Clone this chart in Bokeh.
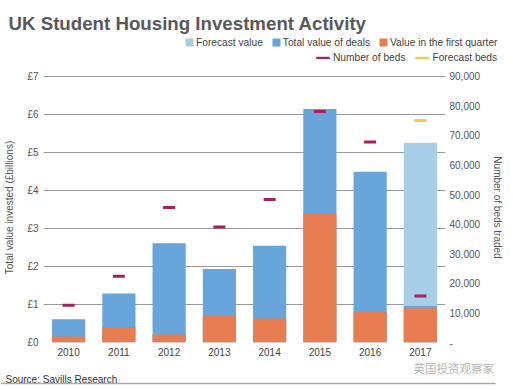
from bokeh.plotting import figure
from bokeh.layouts import column
from bokeh.models import (FactorRange, Range1d, LinearAxis, FixedTicker, Legend, LegendItem, Label,
                          BoxAnnotation)
from bokeh.embed import file_html
from bokeh.resources import INLINE

years = ["2010", "2011", "2012", "2013", "2014", "2015", "2016", "2017"]
total_value = [0.61, 1.29, 2.61, 1.93, 2.54, 6.14, 4.49, 0.96]
first_quarter = [0.16, 0.40, 0.21, 0.70, 0.63, 3.39, 0.83, 0.90]
forecast_years = ["2017"]
forecast_value = [5.25]
beds = [12600, 22400, 45600, 39000, 48300, 78100, 67800, 15700]
forecast_beds = [75000]
left_ticks = [0, 1, 2, 3, 4, 5, 6, 7]
right_ticks = [0, 10000, 20000, 30000, 40000, 50000, 60000, 70000, 80000, 90000]

C_FORE = "#a7cee6"
C_TOTAL = "#67a5da"
C_Q1 = "#e87d51"
C_BEDS = "#a6215c"
C_FBEDS = "#fcc44f"
TXT = "#555555"
FONT = "Liberation Sans"
W = 513
H_TOP, H_MAIN, H_BOT = 63, 297, 30


def bare_figure(h, x_range, y_range):
    f = figure(width=W, height=h, x_range=x_range, y_range=y_range,
               output_backend="svg", toolbar_location=None, frame_align=False,
               min_border_left=0, min_border_right=0, min_border_top=0, min_border_bottom=0)
    f.axis.visible = False
    f.grid.visible = False
    f.outline_line_color = None
    return f


def bar_and_bed_renderers(f):
    rf = f.vbar(x=forecast_years, top=forecast_value, width=0.66, fill_color=C_FORE, line_color=None)
    rt = f.vbar(x=years, top=total_value, width=0.66, fill_color=C_TOTAL, line_color=None)
    rq = f.vbar(x=years, top=first_quarter, width=0.66, fill_color=C_Q1, line_color=None)
    rb = f.rect(x=years, y=beds, width=12, height=3, width_units="screen", height_units="screen",
                fill_color=C_BEDS, line_color=None, y_range_name="beds")
    rfb = f.rect(x=forecast_years, y=forecast_beds, width=12, height=3, width_units="screen",
                 height_units="screen", fill_color=C_FBEDS, line_color=None, y_range_name="beds")
    return rf, rt, rq, rb, rfb


# ---------- header: title + legend (its renderers lie far outside its visible ranges) ----------
top = bare_figure(H_TOP, FactorRange(*years), Range1d(1000, 1001))
top.extra_y_ranges = {"beds": Range1d(10000000, 10000001)}
lg_fore, lg_total, lg_q1, lg_beds, lg_fbeds = bar_and_bed_renderers(top)
top.add_layout(Label(x=8, y=40.3, x_units="screen", y_units="screen",
                     text="UK Student Housing Investment Activity", text_font=FONT,
                     text_font_style="bold", text_font_size="18.7px", text_color="#58595b",
                     text_baseline="alphabetic"))


def make_legend(items, loc, gw, gh):
    return Legend(items=items, location=loc, orientation="horizontal", padding=0, margin=0,
                  spacing=8, glyph_width=gw, glyph_height=gh, label_standoff=2, label_height=12,
                  border_line_color=None, background_fill_alpha=0,
                  label_text_font_size="10.2px", label_text_color="#444444", label_text_font=FONT)


top.add_layout(make_legend([LegendItem(label="Forecast value", renderers=[lg_fore]),
                            LegendItem(label="Total value of deals", renderers=[lg_total]),
                            LegendItem(label="Value in the first quarter", renderers=[lg_q1])],
                           (184, 15), 10, 10))
top.add_layout(make_legend([LegendItem(label="Number of beds", renderers=[lg_beds]),
                            LegendItem(label="Forecast beds", renderers=[lg_fbeds])],
                           (314, 0), 17, 3))

# ---------- main chart ----------
Y_TOP = 7.097
p = figure(width=W, height=H_MAIN, x_range=FactorRange(*years, range_padding=0),
           y_range=Range1d(0, Y_TOP), output_backend="svg", toolbar_location=None,
           frame_align=False,
           min_border_left=43, min_border_right=68, min_border_top=9, min_border_bottom=18)
p.outline_line_color = None
p.extra_y_ranges = {"beds": Range1d(0, 90000 * Y_TOP / 7)}
bar_and_bed_renderers(p)


def style_axis(ax, standoff, label_standoff):
    ax.axis_line_color = None
    ax.major_tick_line_color = None
    ax.minor_tick_line_color = None
    ax.major_tick_out = 0
    ax.major_tick_in = 0
    ax.minor_tick_out = 0
    ax.major_label_standoff = standoff
    ax.axis_label_standoff = label_standoff
    ax.major_label_text_font_size = "10px"
    ax.major_label_text_color = TXT
    ax.major_label_text_font = FONT
    ax.axis_label_text_font_size = "10px"
    ax.axis_label_text_font_style = "normal"
    ax.axis_label_text_color = TXT
    ax.axis_label_text_font = FONT


ya = p.yaxis[0]
ya.ticker = FixedTicker(ticks=left_ticks)
ya.major_label_overrides = {t: f"£{t}" for t in left_ticks}
ya.axis_label = "Total value invested (£billions)"
style_axis(ya, 5, 9)

ra = LinearAxis(y_range_name="beds", ticker=FixedTicker(ticks=right_ticks),
                axis_label="Number of beds traded")
ra.major_label_overrides = {t: (f"{t:,}" if t else "-") for t in right_ticks}
style_axis(ra, 4, 9)
p.add_layout(ra, "right")

xa = p.xaxis[0]
style_axis(xa, 5, 0)
xa.major_label_text_color = "#444444"

p.xgrid.grid_line_color = None
p.ygrid.ticker = FixedTicker(ticks=left_ticks)
p.ygrid.grid_line_color = "#999999"
p.ygrid.grid_line_width = 1.2

# ---------- footer ----------
bot = bare_figure(H_BOT, Range1d(0, W), Range1d(0, H_BOT))
bot.add_layout(Label(x=413, y=23, x_units="screen", y_units="screen", text="英国投资观察家",
                     text_font="Noto Sans CJK SC", text_font_size="11.5px", text_color="#b5b5b5",
                     text_baseline="middle"))
bot.add_layout(Label(x=5, y=11, x_units="screen", y_units="screen", text="Source: Savills Research",
                     text_font=FONT, text_font_size="10px", text_color="#333333",
                     text_baseline="alphabetic"))
bot.add_layout(BoxAnnotation(left=0, right=495, bottom=6.3, top=7.7, left_units="screen",
                             right_units="screen", bottom_units="screen", top_units="screen",
                             fill_color="#aaaaaa", fill_alpha=1, line_color=None))

layout = column(top, p, bot, spacing=0)
open("out.html", "w").write(file_html(layout, INLINE))
